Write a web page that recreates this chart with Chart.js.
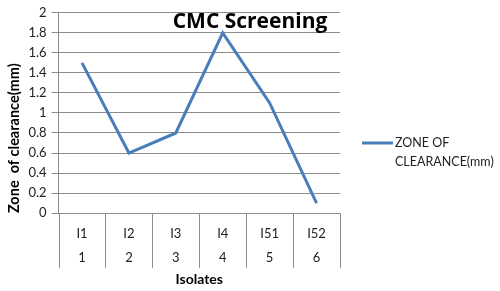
<!DOCTYPE html>
<html lang="en">
<head>
  <meta charset="UTF-8">
  <title>CMC Screening</title>
  <script src="https://cdn.jsdelivr.net/npm/chart.js"></script>
  <style>
    html, body { margin: 0; padding: 0; background: #fff; }
    #wrap { width: 500px; height: 291px; }
  </style>
</head>
<body>
  <div id="wrap"><canvas id="cmcChart"></canvas></div>
  <script>
    // data
    const isolates = ['I1', 'I2', 'I3', 'I4', 'I51', 'I52'];
    const isolateNo = ['1', '2', '3', '4', '5', '6'];
    const clearance = [1.5, 0.6, 0.8, 1.8, 1.1, 0.1];
    const yMin = 0, yMax = 2, yStep = 0.2;

    const seriesName = 'ZONE OF CLEARANCE(mm)';
    const legendLines = ['ZONE OF', 'CLEARANCE(mm)'];
    const lineColor = '#4a7ebb';
    const gridColor = '#8c8c8c';
    const fontFamily = 'Lato, "Open Sans", sans-serif';

    // title, legend and the category separator lines (Excel style)
    const extras = {
      id: 'extras',
      afterDraw(chart) {
        const ctx = chart.ctx;
        const area = chart.chartArea;
        const x = chart.scales.x;
        ctx.save();
        ctx.strokeStyle = gridColor;
        ctx.lineWidth = 1;
        for (let i = 0; i <= isolates.length; i++) {
          const px = Math.round(x.getPixelForValue(i - 0.5)) + 0.5;
          ctx.beginPath();
          ctx.moveTo(px, area.bottom);
          ctx.lineTo(px, area.bottom + 55);
          ctx.stroke();
        }

        ctx.fillStyle = '#000';
        ctx.font = 'bold 21px "Open Sans", sans-serif';
        ctx.textAlign = 'center';
        ctx.textBaseline = 'middle';
        ctx.fillText('CMC Screening', 250, 22);

        ctx.strokeStyle = lineColor;
        ctx.lineWidth = 3;
        ctx.beginPath();
        ctx.moveTo(362, 143);
        ctx.lineTo(393, 143);
        ctx.stroke();
        ctx.fillStyle = '#222';
        ctx.font = '12.5px ' + fontFamily;
        ctx.textAlign = 'left';
        ctx.fillText(legendLines[0], 395, 143);
        ctx.fillText(legendLines[1], 395, 162);
        ctx.restore();
      }
    };

    new Chart(document.getElementById('cmcChart'), {
      type: 'line',
      data: {
        labels: isolates.map((c, i) => [c, isolateNo[i]]),
        datasets: [{
          label: seriesName,
          data: clearance,
          borderColor: lineColor,
          backgroundColor: lineColor,
          borderWidth: 3,
          pointRadius: 0,
          tension: 0
        }]
      },
      options: {
        responsive: true,
        maintainAspectRatio: false,
        animation: false,
        layout: { padding: { left: 6, right: 160, top: 6, bottom: 3 } },
        plugins: {
          legend: { display: false },
          tooltip: { enabled: false }
        },
        scales: {
          x: {
            offset: true,
            grid: { display: false },
            border: { display: false },
            ticks: {
              color: '#222',
              padding: 1,
              maxRotation: 0,
              font: { family: fontFamily, size: 13, lineHeight: 1.85 }
            },
            title: {
              display: true,
              text: 'Isolates',
              color: '#000',
              padding: { top: 0, bottom: 0 },
              font: { family: fontFamily, size: 14, weight: 'bold' }
            }
          },
          y: {
            min: yMin,
            max: yMax,
            grid: { color: gridColor, tickLength: 7 },
            border: { display: true, color: gridColor },
            ticks: {
              stepSize: yStep,
              color: '#222',
              padding: 5,
              font: { family: fontFamily, size: 13 },
              callback: v => String(+v.toFixed(1))
            },
            title: {
              display: true,
              text: 'Zone  of clearance(mm)',
              align: 'start',
              color: '#000',
              padding: { top: 0, bottom: 0 },
              font: { family: fontFamily, size: 14.5, weight: 'bold' }
            }
          }
        }
      },
      plugins: [extras]
    });
  </script>
</body>
</html>
